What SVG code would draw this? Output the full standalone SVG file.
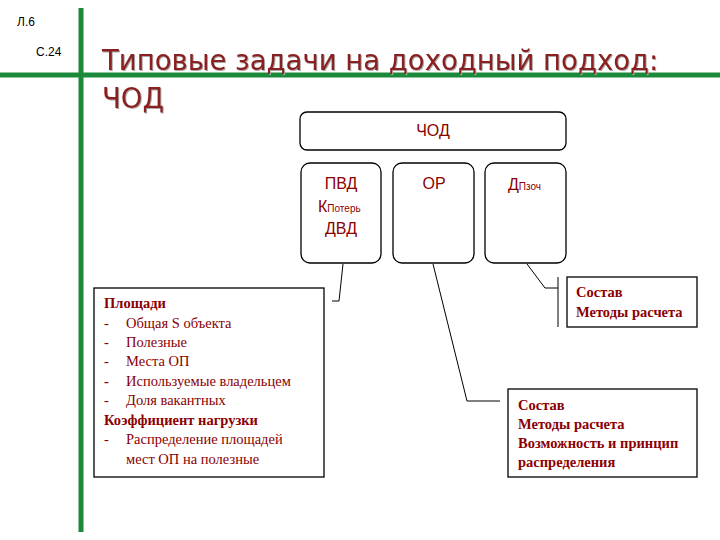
<svg xmlns="http://www.w3.org/2000/svg" width="720" height="540" viewBox="0 0 720 540">
<style>
.b{fill:#fff;stroke:#000;stroke-width:1.3}
.c{fill:none;stroke:#000;stroke-width:1}
.a{font-family:"Liberation Sans",Arial,sans-serif;fill:#8b0000;font-size:16px}
.t{font-family:"Liberation Serif","Times New Roman",serif;fill:#8b0000;font-size:14.5px}
.tb{font-family:"Liberation Serif","Times New Roman",serif;fill:#8b0000;font-size:14.5px;font-weight:bold}
.s{font-family:"Liberation Sans",Arial,sans-serif;font-size:12px;fill:#000}
</style>
<rect width="720" height="540" fill="#fff"/>
<g id="frame">
<line x1="81" y1="8" x2="81" y2="532" stroke="#1a8a3a" stroke-width="5"/>
<line x1="0" y1="75" x2="720" y2="75" stroke="#1a8a3a" stroke-width="5"/>
<text class="s" x="17" y="26">Л.6</text>
<text class="s" x="36" y="56">С.24</text>
</g>
<g id="title" font-family="DejaVu Sans,Verdana,sans-serif" font-size="27.5" fill="#8b2020" style="filter:drop-shadow(1px 1px 0 #aaa)">
<text x="102" y="70">Типовые задачи на доходный подход:</text>
<text x="102" y="108">ЧОД</text>
</g>
<g id="connectors">
<polyline class="c" points="343,264 339,301 332,301"/>
<polyline class="c" points="433,264 467,401 500,401"/>
<polyline class="c" points="527,264 545,288 558,288"/>
<line class="c" x1="558" y1="277" x2="558" y2="327"/>
</g>
<g id="chod"><rect class="b" x="300" y="112" width="266" height="38" rx="7"/><text class="a" x="433" y="136" text-anchor="middle" font-size="15">ЧОД</text></g>
<g id="pvd"><rect class="b" x="301" y="163" width="80" height="100" rx="9"/>
<text class="a" x="341" y="189" text-anchor="middle">ПВД</text>
<text class="a" x="318" y="212">К<tspan font-size="10">Потерь</tspan></text>
<text class="a" x="341" y="234" text-anchor="middle">ДВД</text></g>
<g id="or"><rect class="b" x="393" y="163" width="81" height="100" rx="9"/><text class="a" x="434" y="189" text-anchor="middle">ОР</text></g>
<g id="dp"><rect class="b" x="485" y="163" width="81" height="100" rx="9"/><text class="a" x="508" y="190">Д<tspan font-size="10">Пзоч</tspan></text></g>
<g id="left"><rect class="b" x="94" y="288" width="230" height="189" rx="0"/>
<text class="tb" x="104" y="308">Площади</text>
<text class="t" x="104" y="328">-</text><text class="t" x="126" y="328">Общая S объекта</text>
<text class="t" x="104" y="347">-</text><text class="t" x="126" y="347">Полезные</text>
<text class="t" x="104" y="366">-</text><text class="t" x="126" y="366">Места ОП</text>
<text class="tb" x="104" y="386">-</text><text class="t" x="126" y="386">Используемые владельцем</text>
<text class="t" x="104" y="405">-</text><text class="t" x="126" y="405">Доля вакантных</text>
<text class="tb" x="104" y="425">Коэффициент нагрузки</text>
<text class="t" x="104" y="444">-</text><text class="t" x="126" y="444">Распределение площадей</text>
<text class="t" x="126" y="464">мест ОП на полезные</text></g>
<g id="rtop"><rect class="b" x="567" y="277" width="130" height="50"/>
<text class="tb" x="576" y="297">Состав</text><text class="tb" x="576" y="317">Методы расчета</text></g>
<g id="rbot"><rect class="b" x="508" y="389" width="189" height="88"/>
<text class="tb" x="518" y="410">Состав</text><text class="tb" x="518" y="429">Методы расчета</text>
<text class="tb" x="518" y="448">Возможность и принцип</text><text class="tb" x="518" y="467">распределения</text></g>
</svg>
